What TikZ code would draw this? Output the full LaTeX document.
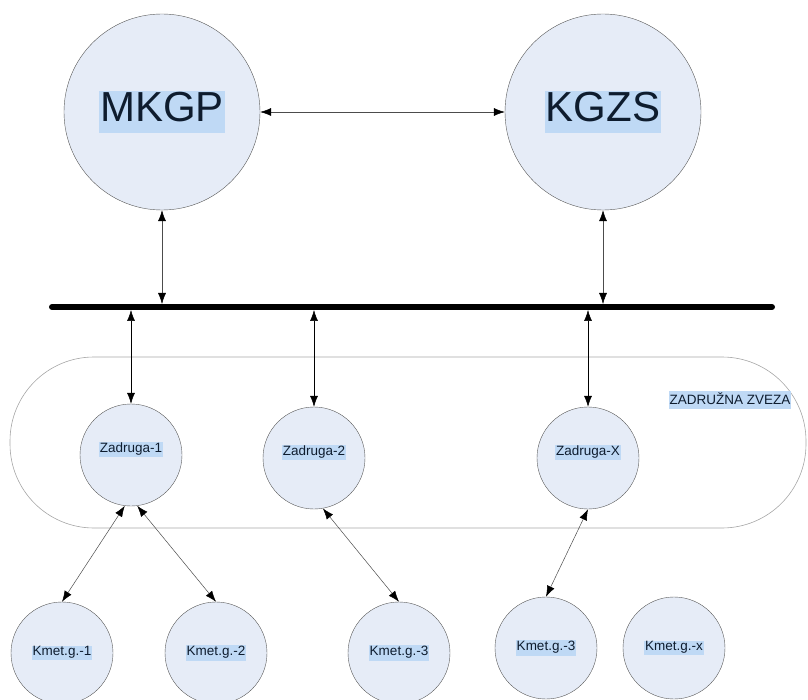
\documentclass[tikz,border=0pt]{standalone}
\usepackage{fontspec}
\setmainfont{Liberation Sans}
\usetikzlibrary{arrows.meta}
\definecolor{circfill}{RGB}{230,236,247}
\definecolor{hlblue}{RGB}{191,217,245}
\definecolor{inktext}{RGB}{14,28,46}
\newcommand{\hilite}[1]{{\setlength{\fboxsep}{1pt}\colorbox{hlblue}{\strut #1}}}
\begin{document}
\begin{tikzpicture}[x=1pt,y=-1pt,
    bigc/.style={circle,draw=gray!70!black,fill=circfill,minimum size=196pt,inner sep=0pt,
                 text=inktext,font=\fontsize{42}{36}\selectfont},
    smallc/.style={circle,draw=gray!70!black,fill=circfill,minimum size=102pt,inner sep=0pt,
                   text=inktext,font=\fontsize{13.5}{12}\selectfont},
    link/.style={draw=gray!60!black,line width=0.5pt,
                 {Latex[length=11pt,width=8pt,color=black]}-{Latex[length=11pt,width=8pt,color=black]}}]
      \useasboundingbox (0,0) rectangle (808,700);
      \node[draw=gray!70,line width=0.6pt,rounded corners=84pt,minimum width=796pt,minimum height=171pt,
            inner sep=0pt](zveza) at (408,442.5){};
      \node[text=inktext,font=\fontsize{13.5}{12}\selectfont](zvlabel) at (730,400){\hilite{ZADRUŽNA ZVEZA}};
      \node[bigc](MKGP) at (162,112){\hilite{MKGP}};
      \node[bigc](KGZS) at (603,112){\hilite{KGZS}};
      \coordinate(busW) at (52,307);
      \coordinate(busE) at (772,307);
      \draw[line width=6pt,line cap=round](busW)--(busE);
      \foreach \x/\y/\i in {131/455/1, 314/458/2, 588/458/X}{
        \node[smallc](Z\i) at (\x,\y){\raisebox{16pt}{\hilite{Zadruga-\i}}};
      }
      \foreach \x/\y/\i/\t in {62/653/1/1, 216/653/2/2, 399/653/3/3, 546/648/4/3, 674/648/5/x}{
        \node[smallc](K\i) at (\x,\y){\hilite{Kmet.g.-\t}};
      }
      \draw[link](MKGP)--(KGZS);
      \foreach \n in {MKGP,KGZS}{
        \draw[link,shorten >=3pt](\n.south)--(\n.south |- busW);
      }
      \foreach \n in {Z1,Z2,ZX}{
        \draw[link,black,shorten <=3pt](\n.north |- busW)--(\n.north);
      }
      \foreach \a/\b in {Z1.-97/K1.north, Z1.-83/K2.north, Z2.-80/K3.north, ZX.-90/K4.north}{
        \draw[link](\a)--(\b);
      }
    \end{tikzpicture}
\end{document}
